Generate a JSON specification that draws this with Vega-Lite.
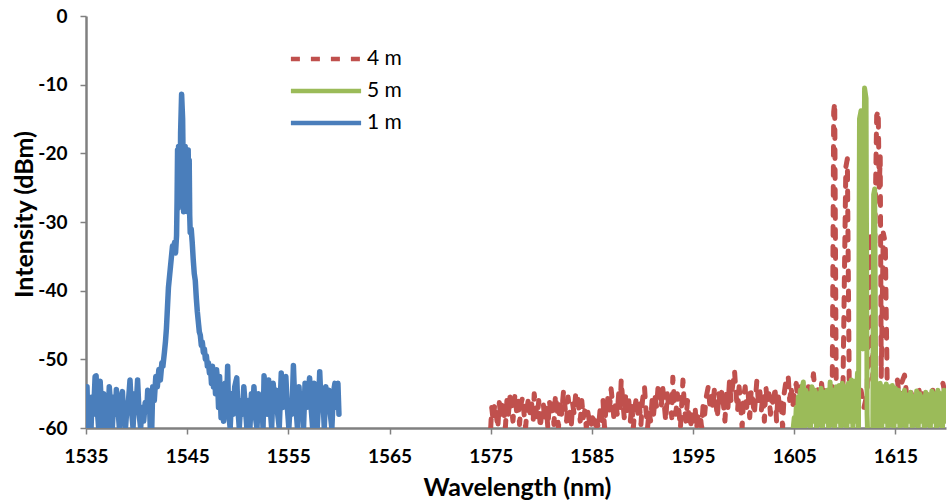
{
  "$schema": "https://vega.github.io/schema/vega-lite/v6.json",
  "width": 860,
  "height": 412,
  "autosize": {"type": "none"},
  "padding": {"left": 86, "top": 16, "right": 1, "bottom": 74},
  "background": "white",
  "config": {
    "view": {"stroke": null},
    "font": "Lato",
    "axis": {
      "grid": false,
      "domainColor": "#808080",
      "domainWidth": 2.5,
      "tickColor": "#808080",
      "tickWidth": 1.5,
      "tickSize": 6,
      "labelFont": "Lato",
      "labelFontWeight": 700,
      "labelFontSize": 19,
      "labelColor": "#000000",
      "labelFlush": false,
      "labelOverlap": false,
      "titleFont": "Lato",
      "titleFontWeight": 700,
      "titleFontSize": 25,
      "titleColor": "#000000"
    },
    "axisX": {"labelPadding": 13, "titleX": 431, "titleY": 67, "titleBaseline": "alphabetic", "titleAlign": "center"},
    "axisY": {"labelPadding": 13, "titleX": -62, "titleY": 198, "titleAngle": -90, "titleBaseline": "middle", "titleAlign": "center"},
    "legend": {
      "padding": 0,
      "rowPadding": 6,
      "symbolType": "M-2.6,0H2.6",
      "symbolSize": 729,
      "symbolStrokeWidth": 4.7,
      "labelFont": "Lato",
      "labelFontSize": 21,
      "labelColor": "#000000",
      "labelOffset": 25
    }
  },
  "data": {
    "values": [
      {"s": "1 m", "w": 1535.0, "v": -58}, {"s": "1 m", "w": 1535.1, "v": -54}, {"s": "1 m", "w": 1535.2, "v": -60}, {"s": "1 m", "w": 1535.35, "v": -56},
      {"s": "1 m", "w": 1535.5, "v": -60}, {"s": "1 m", "w": 1535.6, "v": -55.5}, {"s": "1 m", "w": 1535.75, "v": -58}, {"s": "1 m", "w": 1535.9, "v": -52.5},
      {"s": "1 m", "w": 1536.0, "v": -52.4}, {"s": "1 m", "w": 1536.1, "v": -57}, {"s": "1 m", "w": 1536.25, "v": -60}, {"s": "1 m", "w": 1536.4, "v": -53.2},
      {"s": "1 m", "w": 1536.5, "v": -56}, {"s": "1 m", "w": 1536.6, "v": -60}, {"s": "1 m", "w": 1536.75, "v": -55}, {"s": "1 m", "w": 1536.9, "v": -58.5},
      {"s": "1 m", "w": 1537.0, "v": -56}, {"s": "1 m", "w": 1537.15, "v": -60}, {"s": "1 m", "w": 1537.3, "v": -54}, {"s": "1 m", "w": 1537.45, "v": -57},
      {"s": "1 m", "w": 1537.6, "v": -60}, {"s": "1 m", "w": 1537.75, "v": -55.5}, {"s": "1 m", "w": 1537.9, "v": -58}, {"s": "1 m", "w": 1538.0, "v": -54.4},
      {"s": "1 m", "w": 1538.15, "v": -57}, {"s": "1 m", "w": 1538.3, "v": -60}, {"s": "1 m", "w": 1538.45, "v": -56}, {"s": "1 m", "w": 1538.6, "v": -54.7},
      {"s": "1 m", "w": 1538.75, "v": -59}, {"s": "1 m", "w": 1538.9, "v": -60}, {"s": "1 m", "w": 1539.05, "v": -57}, {"s": "1 m", "w": 1539.2, "v": -56},
      {"s": "1 m", "w": 1539.35, "v": -53}, {"s": "1 m", "w": 1539.5, "v": -57.5}, {"s": "1 m", "w": 1539.65, "v": -60}, {"s": "1 m", "w": 1539.8, "v": -55},
      {"s": "1 m", "w": 1539.95, "v": -57}, {"s": "1 m", "w": 1540.1, "v": -53}, {"s": "1 m", "w": 1540.25, "v": -58}, {"s": "1 m", "w": 1540.4, "v": -60},
      {"s": "1 m", "w": 1540.55, "v": -57}, {"s": "1 m", "w": 1540.7, "v": -59}, {"s": "1 m", "w": 1540.85, "v": -56.3}, {"s": "1 m", "w": 1541.0, "v": -57.5},
      {"s": "1 m", "w": 1541.1, "v": -54.5}, {"s": "1 m", "w": 1541.25, "v": -55}, {"s": "1 m", "w": 1541.35, "v": -60}, {"s": "1 m", "w": 1541.5, "v": -60},
      {"s": "1 m", "w": 1541.6, "v": -54}, {"s": "1 m", "w": 1541.75, "v": -56}, {"s": "1 m", "w": 1541.9, "v": -52.5}, {"s": "1 m", "w": 1542.05, "v": -54},
      {"s": "1 m", "w": 1542.2, "v": -51.5}, {"s": "1 m", "w": 1542.35, "v": -53}, {"s": "1 m", "w": 1542.5, "v": -50.5}, {"s": "1 m", "w": 1542.6, "v": -51},
      {"s": "1 m", "w": 1542.75, "v": -49}, {"s": "1 m", "w": 1542.85, "v": -47.5}, {"s": "1 m", "w": 1542.95, "v": -45.5}, {"s": "1 m", "w": 1543.05, "v": -42.5},
      {"s": "1 m", "w": 1543.15, "v": -39.5}, {"s": "1 m", "w": 1543.25, "v": -38}, {"s": "1 m", "w": 1543.35, "v": -36.5}, {"s": "1 m", "w": 1543.45, "v": -35},
      {"s": "1 m", "w": 1543.55, "v": -33.5}, {"s": "1 m", "w": 1543.65, "v": -34.5}, {"s": "1 m", "w": 1543.75, "v": -33}, {"s": "1 m", "w": 1543.85, "v": -34.5},
      {"s": "1 m", "w": 1543.95, "v": -32}, {"s": "1 m", "w": 1544.0, "v": -27}, {"s": "1 m", "w": 1544.05, "v": -19.5}, {"s": "1 m", "w": 1544.1, "v": -28},
      {"s": "1 m", "w": 1544.15, "v": -19}, {"s": "1 m", "w": 1544.2, "v": -27.5}, {"s": "1 m", "w": 1544.25, "v": -19.5}, {"s": "1 m", "w": 1544.3, "v": -26},
      {"s": "1 m", "w": 1544.35, "v": -17}, {"s": "1 m", "w": 1544.45, "v": -11.4}, {"s": "1 m", "w": 1544.55, "v": -15}, {"s": "1 m", "w": 1544.6, "v": -21},
      {"s": "1 m", "w": 1544.65, "v": -28.5}, {"s": "1 m", "w": 1544.7, "v": -19.5}, {"s": "1 m", "w": 1544.75, "v": -27}, {"s": "1 m", "w": 1544.8, "v": -19},
      {"s": "1 m", "w": 1544.85, "v": -28}, {"s": "1 m", "w": 1544.9, "v": -20}, {"s": "1 m", "w": 1544.95, "v": -27}, {"s": "1 m", "w": 1545.0, "v": -19.5},
      {"s": "1 m", "w": 1545.05, "v": -28.5}, {"s": "1 m", "w": 1545.1, "v": -19.5}, {"s": "1 m", "w": 1545.15, "v": -26}, {"s": "1 m", "w": 1545.2, "v": -21},
      {"s": "1 m", "w": 1545.25, "v": -29}, {"s": "1 m", "w": 1545.3, "v": -31.5}, {"s": "1 m", "w": 1545.4, "v": -31}, {"s": "1 m", "w": 1545.5, "v": -33},
      {"s": "1 m", "w": 1545.6, "v": -35.5}, {"s": "1 m", "w": 1545.7, "v": -37.5}, {"s": "1 m", "w": 1545.8, "v": -38.5}, {"s": "1 m", "w": 1545.9, "v": -41},
      {"s": "1 m", "w": 1546.0, "v": -43}, {"s": "1 m", "w": 1546.1, "v": -44.5}, {"s": "1 m", "w": 1546.2, "v": -46}, {"s": "1 m", "w": 1546.3, "v": -46.5},
      {"s": "1 m", "w": 1546.4, "v": -48}, {"s": "1 m", "w": 1546.5, "v": -47.5}, {"s": "1 m", "w": 1546.6, "v": -49}, {"s": "1 m", "w": 1546.7, "v": -48.5},
      {"s": "1 m", "w": 1546.8, "v": -50}, {"s": "1 m", "w": 1546.9, "v": -49.5}, {"s": "1 m", "w": 1547.0, "v": -51}, {"s": "1 m", "w": 1547.1, "v": -50.5},
      {"s": "1 m", "w": 1547.2, "v": -52}, {"s": "1 m", "w": 1547.3, "v": -51}, {"s": "1 m", "w": 1547.4, "v": -53.5}, {"s": "1 m", "w": 1547.5, "v": -51},
      {"s": "1 m", "w": 1547.6, "v": -54}, {"s": "1 m", "w": 1547.7, "v": -51.5}, {"s": "1 m", "w": 1547.8, "v": -55}, {"s": "1 m", "w": 1547.9, "v": -51.5},
      {"s": "1 m", "w": 1548.0, "v": -53}, {"s": "1 m", "w": 1548.1, "v": -57}, {"s": "1 m", "w": 1548.2, "v": -52.5}, {"s": "1 m", "w": 1548.35, "v": -58.5},
      {"s": "1 m", "w": 1548.5, "v": -55}, {"s": "1 m", "w": 1548.6, "v": -59}, {"s": "1 m", "w": 1548.75, "v": -53.5}, {"s": "1 m", "w": 1548.9, "v": -56},
      {"s": "1 m", "w": 1549.0, "v": -51}, {"s": "1 m", "w": 1549.1, "v": -58}, {"s": "1 m", "w": 1549.25, "v": -60}, {"s": "1 m", "w": 1549.4, "v": -55},
      {"s": "1 m", "w": 1549.55, "v": -58}, {"s": "1 m", "w": 1549.7, "v": -54}, {"s": "1 m", "w": 1549.9, "v": -52.7}, {"s": "1 m", "w": 1550.0, "v": -57},
      {"s": "1 m", "w": 1550.15, "v": -60}, {"s": "1 m", "w": 1550.3, "v": -56}, {"s": "1 m", "w": 1550.45, "v": -58}, {"s": "1 m", "w": 1550.6, "v": -54},
      {"s": "1 m", "w": 1550.75, "v": -57}, {"s": "1 m", "w": 1550.9, "v": -60}, {"s": "1 m", "w": 1551.05, "v": -56}, {"s": "1 m", "w": 1551.2, "v": -60},
      {"s": "1 m", "w": 1551.35, "v": -55}, {"s": "1 m", "w": 1551.5, "v": -57}, {"s": "1 m", "w": 1551.6, "v": -54}, {"s": "1 m", "w": 1551.75, "v": -58.5},
      {"s": "1 m", "w": 1551.9, "v": -60}, {"s": "1 m", "w": 1552.05, "v": -55}, {"s": "1 m", "w": 1552.2, "v": -57}, {"s": "1 m", "w": 1552.35, "v": -55.5},
      {"s": "1 m", "w": 1552.5, "v": -60}, {"s": "1 m", "w": 1552.6, "v": -52.4}, {"s": "1 m", "w": 1552.75, "v": -56}, {"s": "1 m", "w": 1552.9, "v": -58},
      {"s": "1 m", "w": 1553.05, "v": -53}, {"s": "1 m", "w": 1553.2, "v": -57}, {"s": "1 m", "w": 1553.35, "v": -60}, {"s": "1 m", "w": 1553.5, "v": -53.5},
      {"s": "1 m", "w": 1553.65, "v": -56}, {"s": "1 m", "w": 1553.8, "v": -54.5}, {"s": "1 m", "w": 1553.95, "v": -58}, {"s": "1 m", "w": 1554.1, "v": -60},
      {"s": "1 m", "w": 1554.3, "v": -52}, {"s": "1 m", "w": 1554.45, "v": -57}, {"s": "1 m", "w": 1554.6, "v": -55}, {"s": "1 m", "w": 1554.75, "v": -52.5},
      {"s": "1 m", "w": 1554.9, "v": -57}, {"s": "1 m", "w": 1555.05, "v": -60}, {"s": "1 m", "w": 1555.2, "v": -56}, {"s": "1 m", "w": 1555.35, "v": -58},
      {"s": "1 m", "w": 1555.5, "v": -50.9}, {"s": "1 m", "w": 1555.6, "v": -55}, {"s": "1 m", "w": 1555.75, "v": -57}, {"s": "1 m", "w": 1555.9, "v": -60},
      {"s": "1 m", "w": 1556.05, "v": -54}, {"s": "1 m", "w": 1556.2, "v": -58}, {"s": "1 m", "w": 1556.35, "v": -55}, {"s": "1 m", "w": 1556.5, "v": -60},
      {"s": "1 m", "w": 1556.65, "v": -53.5}, {"s": "1 m", "w": 1556.8, "v": -57}, {"s": "1 m", "w": 1556.95, "v": -55}, {"s": "1 m", "w": 1557.1, "v": -52.7},
      {"s": "1 m", "w": 1557.25, "v": -57}, {"s": "1 m", "w": 1557.4, "v": -60}, {"s": "1 m", "w": 1557.55, "v": -53.5}, {"s": "1 m", "w": 1557.7, "v": -56},
      {"s": "1 m", "w": 1557.85, "v": -60}, {"s": "1 m", "w": 1558.0, "v": -56}, {"s": "1 m", "w": 1558.1, "v": -51.8}, {"s": "1 m", "w": 1558.25, "v": -57},
      {"s": "1 m", "w": 1558.4, "v": -55}, {"s": "1 m", "w": 1558.55, "v": -60}, {"s": "1 m", "w": 1558.7, "v": -54}, {"s": "1 m", "w": 1558.85, "v": -56},
      {"s": "1 m", "w": 1559.0, "v": -54.5}, {"s": "1 m", "w": 1559.15, "v": -58}, {"s": "1 m", "w": 1559.3, "v": -60}, {"s": "1 m", "w": 1559.45, "v": -55},
      {"s": "1 m", "w": 1559.6, "v": -53.5}, {"s": "1 m", "w": 1559.75, "v": -57}, {"s": "1 m", "w": 1559.9, "v": -53.5}, {"s": "1 m", "w": 1560.0, "v": -58},

      {"s": "4 m", "w": 1575.0, "v": -60}, {"s": "4 m", "w": 1575.1, "v": -57}, {"s": "4 m", "w": 1575.25, "v": -59}, {"s": "4 m", "w": 1575.4, "v": -56.5},
      {"s": "4 m", "w": 1575.55, "v": -58}, {"s": "4 m", "w": 1575.7, "v": -60}, {"s": "4 m", "w": 1575.85, "v": -56.3}, {"s": "4 m", "w": 1576.0, "v": -58.5},
      {"s": "4 m", "w": 1576.15, "v": -56}, {"s": "4 m", "w": 1576.3, "v": -57.5}, {"s": "4 m", "w": 1576.45, "v": -60}, {"s": "4 m", "w": 1576.6, "v": -56},
      {"s": "4 m", "w": 1576.75, "v": -58}, {"s": "4 m", "w": 1576.9, "v": -55.5}, {"s": "4 m", "w": 1577.05, "v": -57}, {"s": "4 m", "w": 1577.2, "v": -59},
      {"s": "4 m", "w": 1577.4, "v": -55}, {"s": "4 m", "w": 1577.55, "v": -57.5}, {"s": "4 m", "w": 1577.7, "v": -56}, {"s": "4 m", "w": 1577.85, "v": -59.5},
      {"s": "4 m", "w": 1578.0, "v": -56.5}, {"s": "4 m", "w": 1578.15, "v": -55.5}, {"s": "4 m", "w": 1578.3, "v": -58}, {"s": "4 m", "w": 1578.45, "v": -60},
      {"s": "4 m", "w": 1578.6, "v": -57}, {"s": "4 m", "w": 1578.75, "v": -55.5}, {"s": "4 m", "w": 1578.9, "v": -58}, {"s": "4 m", "w": 1579.05, "v": -56.5},
      {"s": "4 m", "w": 1579.2, "v": -59}, {"s": "4 m", "w": 1579.3, "v": -55}, {"s": "4 m", "w": 1579.45, "v": -57}, {"s": "4 m", "w": 1579.6, "v": -58.5},
      {"s": "4 m", "w": 1579.75, "v": -56}, {"s": "4 m", "w": 1579.9, "v": -60}, {"s": "4 m", "w": 1580.05, "v": -57.5}, {"s": "4 m", "w": 1580.2, "v": -56.5},
      {"s": "4 m", "w": 1580.35, "v": -59}, {"s": "4 m", "w": 1580.5, "v": -57}, {"s": "4 m", "w": 1580.65, "v": -60}, {"s": "4 m", "w": 1580.8, "v": -56},
      {"s": "4 m", "w": 1580.95, "v": -58}, {"s": "4 m", "w": 1581.1, "v": -56.5}, {"s": "4 m", "w": 1581.25, "v": -59.5}, {"s": "4 m", "w": 1581.4, "v": -55.2},
      {"s": "4 m", "w": 1581.55, "v": -57}, {"s": "4 m", "w": 1581.7, "v": -60}, {"s": "4 m", "w": 1581.85, "v": -56}, {"s": "4 m", "w": 1582.0, "v": -58},
      {"s": "4 m", "w": 1582.2, "v": -54.6}, {"s": "4 m", "w": 1582.35, "v": -57}, {"s": "4 m", "w": 1582.5, "v": -59}, {"s": "4 m", "w": 1582.65, "v": -55.5},
      {"s": "4 m", "w": 1582.8, "v": -57.5}, {"s": "4 m", "w": 1582.95, "v": -60}, {"s": "4 m", "w": 1583.1, "v": -56.5}, {"s": "4 m", "w": 1583.25, "v": -58},
      {"s": "4 m", "w": 1583.4, "v": -55}, {"s": "4 m", "w": 1583.55, "v": -54.8}, {"s": "4 m", "w": 1583.7, "v": -57}, {"s": "4 m", "w": 1583.85, "v": -59},
      {"s": "4 m", "w": 1584.0, "v": -56}, {"s": "4 m", "w": 1584.15, "v": -58.5}, {"s": "4 m", "w": 1584.3, "v": -57.5}, {"s": "4 m", "w": 1584.45, "v": -60},
      {"s": "4 m", "w": 1584.6, "v": -57.7}, {"s": "4 m", "w": 1584.75, "v": -59}, {"s": "4 m", "w": 1584.9, "v": -60}, {"s": "4 m", "w": 1585.05, "v": -58.5},
      {"s": "4 m", "w": 1585.2, "v": -58.8}, {"s": "4 m", "w": 1585.35, "v": -60}, {"s": "4 m", "w": 1585.5, "v": -59}, {"s": "4 m", "w": 1585.65, "v": -60},
      {"s": "4 m", "w": 1585.8, "v": -57.5}, {"s": "4 m", "w": 1585.95, "v": -59}, {"s": "4 m", "w": 1586.1, "v": -56}, {"s": "4 m", "w": 1586.25, "v": -60},
      {"s": "4 m", "w": 1586.4, "v": -57}, {"s": "4 m", "w": 1586.55, "v": -55.5}, {"s": "4 m", "w": 1586.7, "v": -58}, {"s": "4 m", "w": 1586.9, "v": -54.3},
      {"s": "4 m", "w": 1587.05, "v": -56.5}, {"s": "4 m", "w": 1587.2, "v": -59}, {"s": "4 m", "w": 1587.35, "v": -56}, {"s": "4 m", "w": 1587.5, "v": -58},
      {"s": "4 m", "w": 1587.65, "v": -55}, {"s": "4 m", "w": 1587.8, "v": -57}, {"s": "4 m", "w": 1587.9, "v": -53}, {"s": "4 m", "w": 1588.05, "v": -56},
      {"s": "4 m", "w": 1588.2, "v": -58.5}, {"s": "4 m", "w": 1588.35, "v": -55}, {"s": "4 m", "w": 1588.5, "v": -57.5}, {"s": "4 m", "w": 1588.65, "v": -56},
      {"s": "4 m", "w": 1588.8, "v": -59}, {"s": "4 m", "w": 1588.95, "v": -56.5}, {"s": "4 m", "w": 1589.1, "v": -60}, {"s": "4 m", "w": 1589.25, "v": -57},
      {"s": "4 m", "w": 1589.4, "v": -55.5}, {"s": "4 m", "w": 1589.55, "v": -58}, {"s": "4 m", "w": 1589.7, "v": -56.5}, {"s": "4 m", "w": 1589.85, "v": -59.5},
      {"s": "4 m", "w": 1590.0, "v": -56}, {"s": "4 m", "w": 1590.2, "v": -54}, {"s": "4 m", "w": 1590.35, "v": -57.5}, {"s": "4 m", "w": 1590.5, "v": -60},
      {"s": "4 m", "w": 1590.65, "v": -57.5}, {"s": "4 m", "w": 1590.8, "v": -59}, {"s": "4 m", "w": 1590.95, "v": -56}, {"s": "4 m", "w": 1591.1, "v": -58},
      {"s": "4 m", "w": 1591.25, "v": -55.5}, {"s": "4 m", "w": 1591.4, "v": -57}, {"s": "4 m", "w": 1591.55, "v": -53.8}, {"s": "4 m", "w": 1591.7, "v": -53.6},
      {"s": "4 m", "w": 1591.85, "v": -57}, {"s": "4 m", "w": 1592.0, "v": -54}, {"s": "4 m", "w": 1592.15, "v": -56.5}, {"s": "4 m", "w": 1592.3, "v": -59},
      {"s": "4 m", "w": 1592.45, "v": -55}, {"s": "4 m", "w": 1592.6, "v": -57}, {"s": "4 m", "w": 1592.75, "v": -55.5}, {"s": "4 m", "w": 1592.9, "v": -58.5},
      {"s": "4 m", "w": 1593.0, "v": -52.6}, {"s": "4 m", "w": 1593.15, "v": -56}, {"s": "4 m", "w": 1593.3, "v": -58}, {"s": "4 m", "w": 1593.45, "v": -55},
      {"s": "4 m", "w": 1593.6, "v": -57.5}, {"s": "4 m", "w": 1593.75, "v": -60}, {"s": "4 m", "w": 1593.9, "v": -56}, {"s": "4 m", "w": 1594.0, "v": -53},
      {"s": "4 m", "w": 1594.15, "v": -57}, {"s": "4 m", "w": 1594.3, "v": -59}, {"s": "4 m", "w": 1594.45, "v": -56}, {"s": "4 m", "w": 1594.6, "v": -58.5},
      {"s": "4 m", "w": 1594.75, "v": -60}, {"s": "4 m", "w": 1594.9, "v": -57.5}, {"s": "4 m", "w": 1595.05, "v": -59}, {"s": "4 m", "w": 1595.2, "v": -57},
      {"s": "4 m", "w": 1595.35, "v": -60}, {"s": "4 m", "w": 1595.5, "v": -58}, {"s": "4 m", "w": 1595.7, "v": -58}, {"s": "4 m", "w": 1595.85, "v": -60},
      {"s": "4 m", "w": 1596.0, "v": -56.5}, {"s": "4 m", "w": 1596.15, "v": -58}, {"s": "4 m", "w": 1596.3, "v": -55.5}, {"s": "4 m", "w": 1596.5, "v": -54},
      {"s": "4 m", "w": 1596.65, "v": -56.5}, {"s": "4 m", "w": 1596.8, "v": -55}, {"s": "4 m", "w": 1596.95, "v": -57}, {"s": "4 m", "w": 1597.1, "v": -54.5},
      {"s": "4 m", "w": 1597.25, "v": -56}, {"s": "4 m", "w": 1597.4, "v": -58.5}, {"s": "4 m", "w": 1597.55, "v": -55}, {"s": "4 m", "w": 1597.7, "v": -57},
      {"s": "4 m", "w": 1597.85, "v": -54.5}, {"s": "4 m", "w": 1598.0, "v": -56.5}, {"s": "4 m", "w": 1598.15, "v": -59}, {"s": "4 m", "w": 1598.3, "v": -55},
      {"s": "4 m", "w": 1598.45, "v": -57}, {"s": "4 m", "w": 1598.6, "v": -53.2}, {"s": "4 m", "w": 1598.75, "v": -56}, {"s": "4 m", "w": 1598.9, "v": -54},
      {"s": "4 m", "w": 1599.1, "v": -51.7}, {"s": "4 m", "w": 1599.25, "v": -55}, {"s": "4 m", "w": 1599.4, "v": -57.5}, {"s": "4 m", "w": 1599.55, "v": -54},
      {"s": "4 m", "w": 1599.7, "v": -56.5}, {"s": "4 m", "w": 1599.85, "v": -60}, {"s": "4 m", "w": 1600.0, "v": -55.5}, {"s": "4 m", "w": 1600.15, "v": -54},
      {"s": "4 m", "w": 1600.3, "v": -57}, {"s": "4 m", "w": 1600.45, "v": -55}, {"s": "4 m", "w": 1600.6, "v": -58.5}, {"s": "4 m", "w": 1600.75, "v": -54.5},
      {"s": "4 m", "w": 1600.9, "v": -56}, {"s": "4 m", "w": 1601.05, "v": -58}, {"s": "4 m", "w": 1601.3, "v": -53.2}, {"s": "4 m", "w": 1601.45, "v": -56},
      {"s": "4 m", "w": 1601.6, "v": -54.5}, {"s": "4 m", "w": 1601.75, "v": -57.5}, {"s": "4 m", "w": 1601.9, "v": -55}, {"s": "4 m", "w": 1602.05, "v": -59},
      {"s": "4 m", "w": 1602.2, "v": -54}, {"s": "4 m", "w": 1602.35, "v": -56.5}, {"s": "4 m", "w": 1602.5, "v": -55}, {"s": "4 m", "w": 1602.65, "v": -58},
      {"s": "4 m", "w": 1602.8, "v": -55.5}, {"s": "4 m", "w": 1602.95, "v": -57}, {"s": "4 m", "w": 1603.1, "v": -54}, {"s": "4 m", "w": 1603.25, "v": -59},
      {"s": "4 m", "w": 1603.4, "v": -55}, {"s": "4 m", "w": 1603.55, "v": -57}, {"s": "4 m", "w": 1603.7, "v": -56}, {"s": "4 m", "w": 1603.85, "v": -60},
      {"s": "4 m", "w": 1604.0, "v": -55}, {"s": "4 m", "w": 1604.2, "v": -53}, {"s": "4 m", "w": 1604.4, "v": -52.4}, {"s": "4 m", "w": 1604.55, "v": -56},
      {"s": "4 m", "w": 1604.7, "v": -54}, {"s": "4 m", "w": 1604.85, "v": -57}, {"s": "4 m", "w": 1605.0, "v": -55}, {"s": "4 m", "w": 1605.2, "v": -53.5},
      {"s": "4 m", "w": 1605.4, "v": -57}, {"s": "4 m", "w": 1605.6, "v": -54}, {"s": "4 m", "w": 1605.8, "v": -56.5}, {"s": "4 m", "w": 1606.0, "v": -55},
      {"s": "4 m", "w": 1606.2, "v": -58}, {"s": "4 m", "w": 1606.4, "v": -54}, {"s": "4 m", "w": 1606.6, "v": -56}, {"s": "4 m", "w": 1606.9, "v": -52.1},
      {"s": "4 m", "w": 1607.1, "v": -55.5}, {"s": "4 m", "w": 1607.3, "v": -54}, {"s": "4 m", "w": 1607.5, "v": -57}, {"s": "4 m", "w": 1607.7, "v": -53.5},
      {"s": "4 m", "w": 1607.9, "v": -56}, {"s": "4 m", "w": 1608.1, "v": -54}, {"s": "4 m", "w": 1608.3, "v": -57}, {"s": "4 m", "w": 1608.5, "v": -55},
      {"s": "4 m", "w": 1608.75, "v": -56}, {"s": "4 m", "w": 1608.9, "v": -14}, {"s": "4 m", "w": 1609.0, "v": -12.6}, {"s": "4 m", "w": 1609.15, "v": -55},
      {"s": "4 m", "w": 1609.35, "v": -57}, {"s": "4 m", "w": 1609.55, "v": -54.5}, {"s": "4 m", "w": 1609.8, "v": -56}, {"s": "4 m", "w": 1610.1, "v": -22},
      {"s": "4 m", "w": 1610.25, "v": -20.8}, {"s": "4 m", "w": 1610.45, "v": -56}, {"s": "4 m", "w": 1610.65, "v": -54}, {"s": "4 m", "w": 1610.9, "v": -57},
      {"s": "4 m", "w": 1611.1, "v": -55}, {"s": "4 m", "w": 1611.35, "v": -56.5}, {"s": "4 m", "w": 1611.6, "v": -54.5}, {"s": "4 m", "w": 1611.9, "v": -57},
      {"s": "4 m", "w": 1612.2, "v": -55}, {"s": "4 m", "w": 1612.5, "v": -31.5}, {"s": "4 m", "w": 1612.75, "v": -53}, {"s": "4 m", "w": 1613.15, "v": -14.5},
      {"s": "4 m", "w": 1613.3, "v": -13.8}, {"s": "4 m", "w": 1613.4, "v": -25}, {"s": "4 m", "w": 1613.5, "v": -20.5}, {"s": "4 m", "w": 1613.6, "v": -52.5},
      {"s": "4 m", "w": 1613.8, "v": -31.6}, {"s": "4 m", "w": 1614.0, "v": -33}, {"s": "4 m", "w": 1614.2, "v": -55}, {"s": "4 m", "w": 1614.4, "v": -57},
      {"s": "4 m", "w": 1614.6, "v": -54}, {"s": "4 m", "w": 1614.8, "v": -56.5}, {"s": "4 m", "w": 1615.0, "v": -54.5}, {"s": "4 m", "w": 1615.2, "v": -53},
      {"s": "4 m", "w": 1615.4, "v": -56}, {"s": "4 m", "w": 1615.6, "v": -53.5}, {"s": "4 m", "w": 1615.9, "v": -52.3}, {"s": "4 m", "w": 1616.1, "v": -55},
      {"s": "4 m", "w": 1616.3, "v": -57}, {"s": "4 m", "w": 1616.5, "v": -54.5}, {"s": "4 m", "w": 1616.7, "v": -56}, {"s": "4 m", "w": 1616.9, "v": -55},
      {"s": "4 m", "w": 1617.1, "v": -57.5}, {"s": "4 m", "w": 1617.3, "v": -54}, {"s": "4 m", "w": 1617.5, "v": -56.5}, {"s": "4 m", "w": 1617.7, "v": -55},
      {"s": "4 m", "w": 1617.9, "v": -57}, {"s": "4 m", "w": 1618.1, "v": -54.5}, {"s": "4 m", "w": 1618.3, "v": -56}, {"s": "4 m", "w": 1618.5, "v": -58},
      {"s": "4 m", "w": 1618.7, "v": -54.5}, {"s": "4 m", "w": 1618.9, "v": -56}, {"s": "4 m", "w": 1619.1, "v": -55}, {"s": "4 m", "w": 1619.3, "v": -57},
      {"s": "4 m", "w": 1619.5, "v": -54}, {"s": "4 m", "w": 1619.7, "v": -53.5}, {"s": "4 m", "w": 1619.9, "v": -55}, {"s": "4 m", "w": 1620.0, "v": -54},

      {"s": "5 m", "w": 1604.9, "v": -60}, {"s": "5 m", "w": 1605.0, "v": -58.5}, {"s": "5 m", "w": 1605.1, "v": -60}, {"s": "5 m", "w": 1605.2, "v": -57},
      {"s": "5 m", "w": 1605.3, "v": -60}, {"s": "5 m", "w": 1605.4, "v": -55.5}, {"s": "5 m", "w": 1605.5, "v": -60}, {"s": "5 m", "w": 1605.6, "v": -54.5},
      {"s": "5 m", "w": 1605.7, "v": -59}, {"s": "5 m", "w": 1605.8, "v": -54}, {"s": "5 m", "w": 1605.9, "v": -53.3}, {"s": "5 m", "w": 1606.0, "v": -60},
      {"s": "5 m", "w": 1606.15, "v": -54.5}, {"s": "5 m", "w": 1606.3, "v": -59.5}, {"s": "5 m", "w": 1606.45, "v": -55}, {"s": "5 m", "w": 1606.6, "v": -60},
      {"s": "5 m", "w": 1606.75, "v": -54}, {"s": "5 m", "w": 1606.9, "v": -59}, {"s": "5 m", "w": 1607.05, "v": -54.5}, {"s": "5 m", "w": 1607.2, "v": -60},
      {"s": "5 m", "w": 1607.35, "v": -55}, {"s": "5 m", "w": 1607.5, "v": -59.5}, {"s": "5 m", "w": 1607.65, "v": -54.2}, {"s": "5 m", "w": 1607.8, "v": -60},
      {"s": "5 m", "w": 1607.95, "v": -54.8}, {"s": "5 m", "w": 1608.1, "v": -59}, {"s": "5 m", "w": 1608.25, "v": -54.5}, {"s": "5 m", "w": 1608.4, "v": -60},
      {"s": "5 m", "w": 1608.55, "v": -53.3}, {"s": "5 m", "w": 1608.7, "v": -59.5}, {"s": "5 m", "w": 1608.85, "v": -54.5}, {"s": "5 m", "w": 1609.0, "v": -60},
      {"s": "5 m", "w": 1609.15, "v": -54}, {"s": "5 m", "w": 1609.3, "v": -59}, {"s": "5 m", "w": 1609.45, "v": -53.8}, {"s": "5 m", "w": 1609.6, "v": -60},
      {"s": "5 m", "w": 1609.75, "v": -53.5}, {"s": "5 m", "w": 1609.9, "v": -59.5}, {"s": "5 m", "w": 1610.05, "v": -54}, {"s": "5 m", "w": 1610.2, "v": -60},
      {"s": "5 m", "w": 1610.35, "v": -53.5}, {"s": "5 m", "w": 1610.5, "v": -59}, {"s": "5 m", "w": 1610.65, "v": -53}, {"s": "5 m", "w": 1610.8, "v": -60},
      {"s": "5 m", "w": 1610.95, "v": -53.2}, {"s": "5 m", "w": 1611.1, "v": -59}, {"s": "5 m", "w": 1611.25, "v": -52}, {"s": "5 m", "w": 1611.35, "v": -60},
      {"s": "5 m", "w": 1611.45, "v": -15}, {"s": "5 m", "w": 1611.6, "v": -13.8}, {"s": "5 m", "w": 1611.78, "v": -48.5}, {"s": "5 m", "w": 1611.95, "v": -10.5},
      {"s": "5 m", "w": 1612.1, "v": -12}, {"s": "5 m", "w": 1612.2, "v": -58}, {"s": "5 m", "w": 1612.35, "v": -66}, {"s": "5 m", "w": 1612.75, "v": -66},
      {"s": "5 m", "w": 1612.85, "v": -26}, {"s": "5 m", "w": 1612.95, "v": -25.2}, {"s": "5 m", "w": 1613.05, "v": -53.5}, {"s": "5 m", "w": 1613.15, "v": -60},
      {"s": "5 m", "w": 1613.25, "v": -53.6}, {"s": "5 m", "w": 1613.35, "v": -59.5}, {"s": "5 m", "w": 1613.5, "v": -53.5}, {"s": "5 m", "w": 1613.65, "v": -60},
      {"s": "5 m", "w": 1613.8, "v": -54}, {"s": "5 m", "w": 1613.95, "v": -59}, {"s": "5 m", "w": 1614.1, "v": -53.6}, {"s": "5 m", "w": 1614.25, "v": -60},
      {"s": "5 m", "w": 1614.4, "v": -54}, {"s": "5 m", "w": 1614.55, "v": -59.5}, {"s": "5 m", "w": 1614.7, "v": -53.8}, {"s": "5 m", "w": 1614.85, "v": -60},
      {"s": "5 m", "w": 1615.0, "v": -54.2}, {"s": "5 m", "w": 1615.15, "v": -59}, {"s": "5 m", "w": 1615.3, "v": -54.5}, {"s": "5 m", "w": 1615.45, "v": -60},
      {"s": "5 m", "w": 1615.6, "v": -55}, {"s": "5 m", "w": 1615.75, "v": -59.5}, {"s": "5 m", "w": 1615.9, "v": -54.5}, {"s": "5 m", "w": 1616.05, "v": -60},
      {"s": "5 m", "w": 1616.2, "v": -55.2}, {"s": "5 m", "w": 1616.35, "v": -59}, {"s": "5 m", "w": 1616.5, "v": -54.8}, {"s": "5 m", "w": 1616.65, "v": -60},
      {"s": "5 m", "w": 1616.8, "v": -55.4}, {"s": "5 m", "w": 1616.95, "v": -59.5}, {"s": "5 m", "w": 1617.1, "v": -54.6}, {"s": "5 m", "w": 1617.25, "v": -60},
      {"s": "5 m", "w": 1617.4, "v": -55}, {"s": "5 m", "w": 1617.55, "v": -59}, {"s": "5 m", "w": 1617.7, "v": -55.5}, {"s": "5 m", "w": 1617.85, "v": -60},
      {"s": "5 m", "w": 1618.0, "v": -54.8}, {"s": "5 m", "w": 1618.15, "v": -59.5}, {"s": "5 m", "w": 1618.3, "v": -55.2}, {"s": "5 m", "w": 1618.45, "v": -60},
      {"s": "5 m", "w": 1618.6, "v": -54.6}, {"s": "5 m", "w": 1618.75, "v": -59}, {"s": "5 m", "w": 1618.9, "v": -55}, {"s": "5 m", "w": 1619.05, "v": -60},
      {"s": "5 m", "w": 1619.2, "v": -54.5}, {"s": "5 m", "w": 1619.35, "v": -59.5}, {"s": "5 m", "w": 1619.5, "v": -55}, {"s": "5 m", "w": 1619.65, "v": -60},
      {"s": "5 m", "w": 1619.8, "v": -54.5}, {"s": "5 m", "w": 1619.95, "v": -59}, {"s": "5 m", "w": 1620.0, "v": -55}
    ]
  },
  "encoding": {
    "x": {
      "field": "w",
      "type": "quantitative",
      "scale": {"domain": [1535, 1620], "nice": false, "zero": false},
      "axis": {
        "values": [1535, 1545, 1555, 1565, 1575, 1585, 1595, 1605, 1615],
        "format": "d",
        "labelFontWeight": "bold",
        "title": "Wavelength (nm)"
      }
    },
    "y": {
      "field": "v",
      "type": "quantitative",
      "scale": {"domain": [-60, 0], "nice": false, "zero": false},
      "axis": {
        "values": [0, -10, -20, -30, -40, -50, -60],
        "labelExpr": "'' + datum.value",
        "labelFontWeight": "bold",
        "title": "Intensity (dBm)"
      }
    },
    "color": {
      "field": "s",
      "type": "nominal",
      "scale": {"domain": ["4 m", "5 m", "1 m"], "range": ["#C0504D", "#9BBB59", "#4A7EBB"]},
      "legend": {"title": null, "orient": "none", "legendX": 224, "legendY": 27}
    },
    "strokeDash": {
      "field": "s",
      "type": "nominal",
      "scale": {"domain": ["4 m", "5 m", "1 m"], "range": [[9, 11], [1, 0], [1, 0]]},
      "legend": {"title": null, "orient": "none", "legendX": 224, "legendY": 27}
    }
  },
  "layer": [
    {
      "transform": [{"filter": "datum.s === '4 m'"}],
      "mark": {"type": "line", "strokeWidth": 5, "strokeCap": "round", "strokeJoin": "round", "clip": true}
    },
    {
      "transform": [{"filter": "datum.s === '5 m'"}],
      "mark": {"type": "line", "strokeWidth": 5, "strokeCap": "round", "strokeJoin": "round", "clip": true}
    },
    {
      "transform": [{"filter": "datum.s === '1 m'"}],
      "mark": {"type": "line", "strokeWidth": 5.5, "strokeCap": "round", "strokeJoin": "round", "clip": true}
    },
    {
      "data": {"values": [{}]},
      "mark": {"type": "rule", "stroke": "#000000", "strokeWidth": 3.5},
      "encoding": {"y": {"datum": 0}, "x": null, "color": null, "strokeDash": null}
    },
    {
      "data": {"values": [{}]},
      "mark": {"type": "rule", "stroke": "#000000", "strokeWidth": 2.5},
      "encoding": {"x": {"datum": 1620}, "y": null, "color": null, "strokeDash": null}
    }
  ]
}
